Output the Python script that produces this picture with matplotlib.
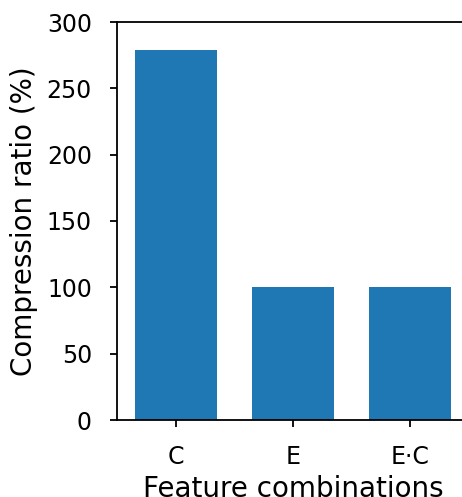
import numpy as np
import matplotlib
matplotlib.use('Agg')
import matplotlib.pyplot as plt

# feature combinations and their compression ratio
labels = ['C', 'E', 'E·C']
ratio = [279, 100, 100]

fig = plt.figure(figsize=(4.62, 4.97), dpi=100)
ax = fig.add_axes([117/462, 77/497, 352/462, 398/497])

x = np.arange(len(labels))
ax.bar(x, ratio, width=0.7, color='#1f77b4')

ax.set_xlim(-0.5, 2.5)
ax.set_ylim(0, 300)
ax.set_yticks([0, 50, 100, 150, 200, 250, 300])
ax.set_xticks(x)
ax.set_xticklabels(labels)
ax.spines['right'].set_visible(False)
for s in ax.spines.values():
    s.set_linewidth(1.3)
ax.tick_params(labelsize=17, width=1.3, length=5, pad=13)
ax.set_xlabel('Feature combinations', fontsize=20, labelpad=4)
ax.set_ylabel('Compression ratio (%)', fontsize=20, labelpad=6)

fig.savefig('out.png', dpi=100)
